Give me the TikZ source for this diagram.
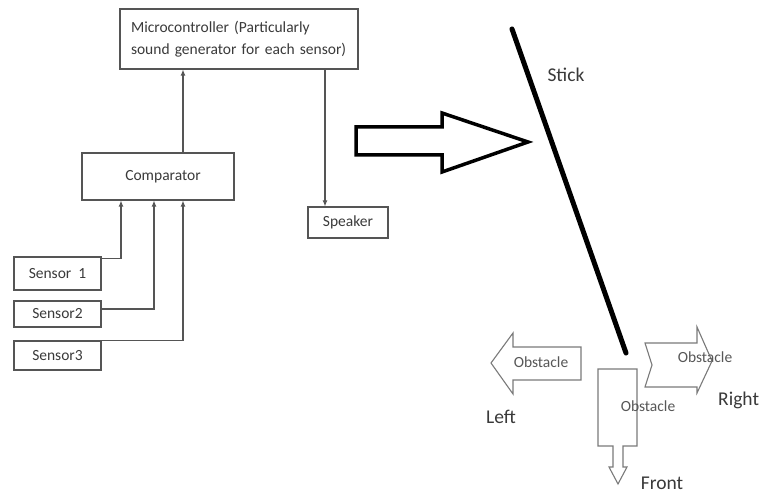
\documentclass[tikz,border=0pt]{standalone}
\usepackage{fontspec}
\setmainfont{Carlito}
\usetikzlibrary{arrows.meta,calc}
\definecolor{boxline}{HTML}{555555}
\definecolor{txt}{HTML}{3A3A3A}
\definecolor{obst}{HTML}{7A7A7A}
\tikzset{
  blk/.style={draw=boxline, line width=1.1pt, text=txt, inner sep=0pt, font=\fontsize{15.5}{22}\selectfont},
  arr/.style={draw=boxline, line width=1.1pt, -{Latex[length=6pt,width=5pt]}},
  lbl/.style={text=txt, inner sep=0pt, font=\fontsize{19.5}{22}\selectfont},
  obl/.style={text=txt!85!white, inner sep=0pt, font=\fontsize{15.5}{18}\selectfont},
  hollow/.style={draw=obst, line width=1.1pt, line join=miter},
}
\begin{document}
\begin{tikzpicture}[x=1pt,y=-1pt]
\useasboundingbox[fill=white] (0,0) rectangle (760,502);
% blocks
\node[blk, minimum width=238pt, minimum height=60pt, text width=216pt, align=left] (micro) at (239,39)
  {Microcontroller (Particularly\\sound generator for each sensor)};
\node[blk, minimum width=152pt, minimum height=47pt] (comp) at (158,176.5) {\hspace{10pt}Comparator};
\node[blk, minimum width=80pt, minimum height=31pt] (spk) at (348,222.5) {Speaker};
\node[blk, minimum width=87pt, minimum height=33pt] (s1) at (57.5,273.5) {Sensor\ \ 1};
\node[blk, minimum width=87pt, minimum height=26pt] (s2) at (57.5,314) {Sensor2};
\node[blk, minimum width=87pt, minimum height=29pt] (s3) at (57.5,355.5) {Sensor3};
% connectors
\draw[arr] ([yshift=-2pt]s1.north east) -| ([xshift=-37pt]comp.south);
\draw[arr] ([yshift=5pt]s2.east) -| ([xshift=-4pt]comp.south);
\draw[arr] (s3.north east) -| ([xshift=25pt]comp.south);
\draw[arr] ([xshift=25pt]comp.north) -- ([xshift=25pt]comp.north |- micro.south);
\draw[arr] ([xshift=-23pt]spk.north |- micro.south) -- ([xshift=-23pt]spk.north);
% big hollow arrow
\draw[line width=3.5pt, line join=miter] (356,127) -- (442,127) -- (442,113) -- (528,142) -- (442,172) -- (442,155) -- (356,155) -- cycle;
% stick
\draw[line width=5pt, line cap=round] (512,29) -- (626,353);
\node[lbl] (stick) at (566,75) {Stick};
% obstacle arrows
\draw[hollow] (581,347) -- (513,347) -- (513,333) -- (491,363) -- (513,394) -- (513,380) -- (581,380) -- cycle;
\draw[hollow] (645,343) -- (697,343) -- (697,327) -- (712,361) -- (697,393) -- (697,387) -- (645,387) -- (652,365) -- cycle;
\draw[hollow] (598,369) -- (637,369) -- (637,446) -- (623,446) -- (623,467) -- (627,467) -- (618,484) -- (609,467) -- (613,467) -- (613,446) -- (598,446) -- cycle;
\node[obl] (obL) at (541,362) {Obstacle};
\node[obl] (obR) at (705,357) {Obstacle};
\node[obl] (obF) at (648,406) {Obstacle};
\node[lbl] (left) at (501,417) {Left};
\node[lbl, anchor=west] (right) at (718,400) {Right};
\node[lbl] (front) at (662,483) {Front};
\end{tikzpicture}
\end{document}
